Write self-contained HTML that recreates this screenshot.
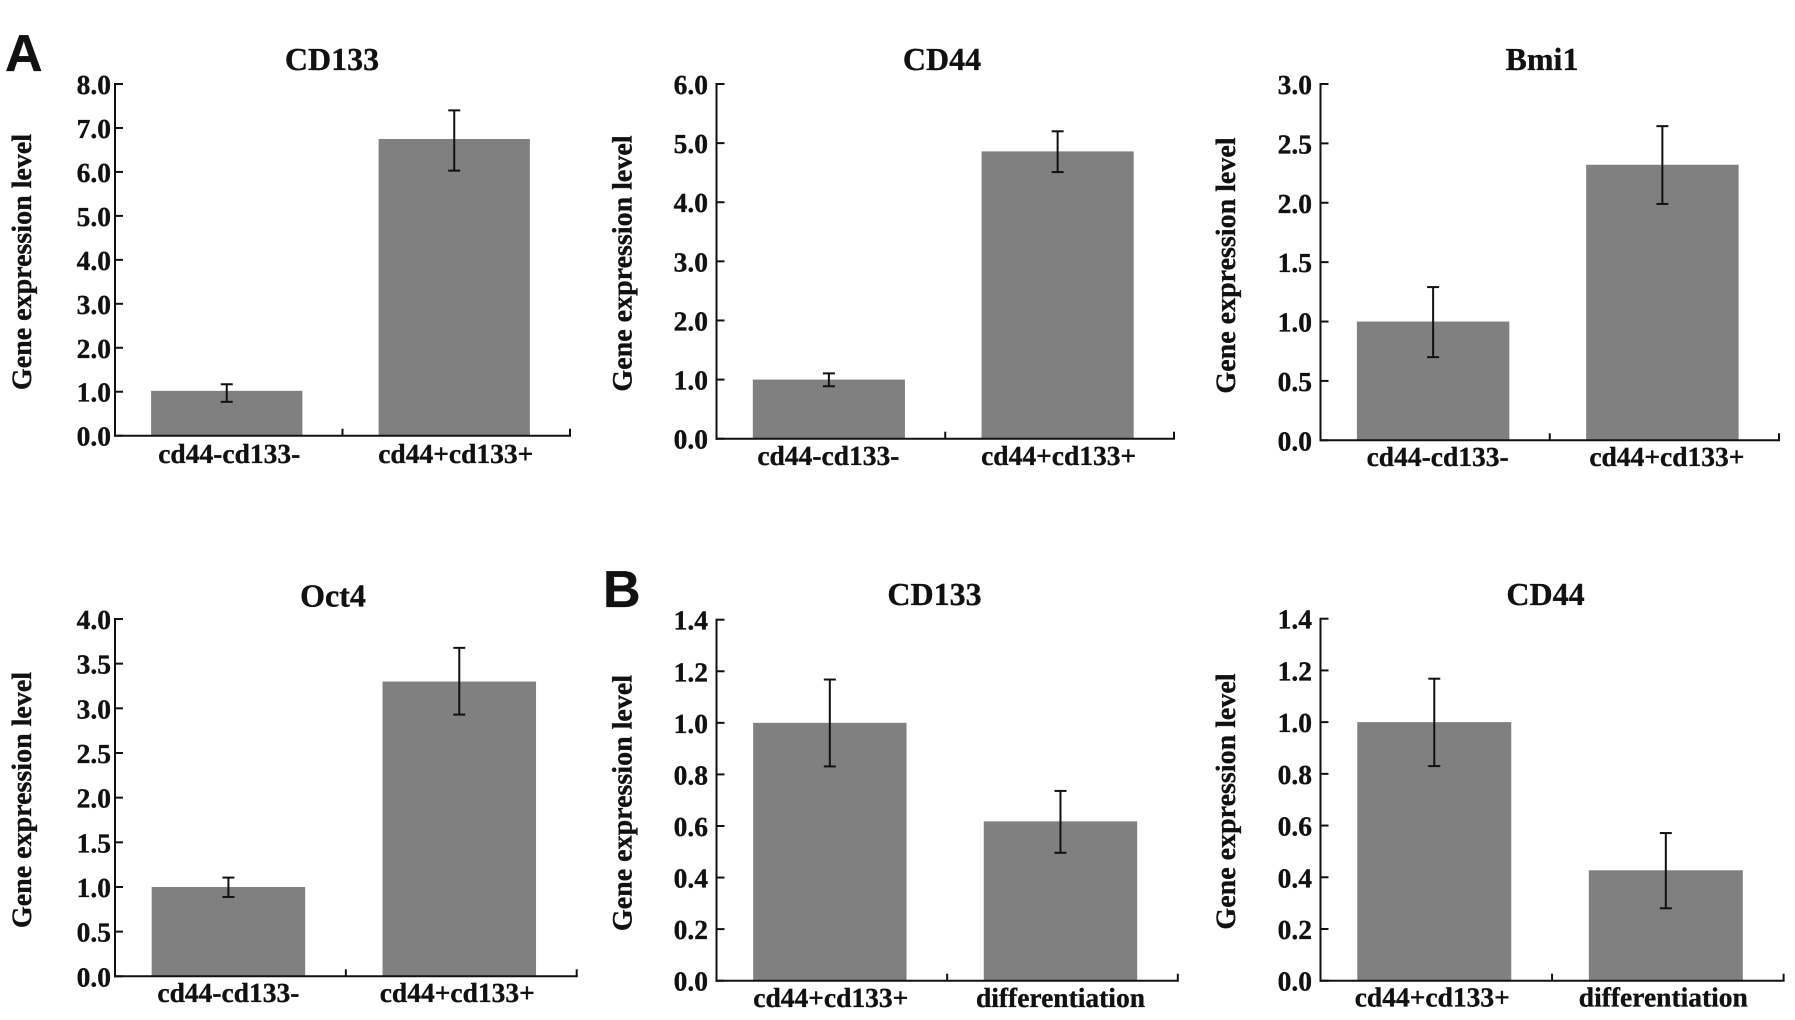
<!DOCTYPE html>
<html lang="en">
<head>
<meta charset="utf-8">
<title>Gene expression level bar charts</title>
<style>
  html, body { margin: 0; padding: 0; background: #fff; }
  #figure { display: block; width: 1795px; height: 1020px; }
  text { font-family: "Liberation Serif", serif; font-weight: bold; fill: #111; stroke: #111; stroke-width: 0.35px; text-rendering: geometricPrecision; }
  .panel-letter { font-family: "Liberation Sans", sans-serif; font-size: 52px; }
  .title { font-size: 32px; text-anchor: middle; }
  .tick-label { font-size: 27.5px; text-anchor: end; }
  .cat-label { font-size: 27.5px; text-anchor: middle; }
  .y-title { font-size: 28px; text-anchor: middle; }
</style>
</head>
<body>
<svg id="figure" xmlns="http://www.w3.org/2000/svg" width="1795" height="1020" viewBox="0 0 1795 1020">
  <rect x="0" y="0" width="1795" height="1020" fill="#fff"/>
  <text class="panel-letter" x="5" y="71">A</text>
  <text class="panel-letter" x="603" y="607">B</text>
</svg>
<script>
// Category labels
const sortedCategories = ["cd44-cd133-", "cd44+cd133+"];
const differentiationCategories = ["cd44+cd133+", "differentiation"];

// Tick labels
const ticksCd133A = ["0.0", "1.0", "2.0", "3.0", "4.0", "5.0", "6.0", "7.0", "8.0"];
const ticksCd44A = ["0.0", "1.0", "2.0", "3.0", "4.0", "5.0", "6.0"];
const ticksBmi1 = ["0.0", "0.5", "1.0", "1.5", "2.0", "2.5", "3.0"];
const ticksOct4 = ["0.0", "0.5", "1.0", "1.5", "2.0", "2.5", "3.0", "3.5", "4.0"];
const ticksCd133B = ["0.0", "0.2", "0.4", "0.6", "0.8", "1.0", "1.2", "1.4"];
const ticksCd44B = ["0.0", "0.2", "0.4", "0.6", "0.8", "1.0", "1.2", "1.4"];

// Series values: bar height, error-bar top, error-bar bottom
const meansCd133A = [1.02, 6.75];
const upperCd133A = [1.17, 7.40];
const lowerCd133A = [0.77, 6.03];

const meansCd44A = [1.00, 4.86];
const upperCd44A = [1.105, 5.20];
const lowerCd44A = [0.887, 4.51];

const meansBmi1 = [1.00, 2.32];
const upperBmi1 = [1.29, 2.645];
const lowerBmi1 = [0.70, 1.99];

const meansOct4 = [1.00, 3.30];
const upperOct4 = [1.105, 3.677];
const lowerOct4 = [0.888, 2.93];

const meansCd133B = [1.00, 0.618];
const upperCd133B = [1.168, 0.736];
const lowerCd133B = [0.831, 0.496];

const meansCd44B = [1.00, 0.427];
const upperCd44B = [1.168, 0.571];
const lowerCd44B = [0.83, 0.28];

const panelCd133A = { key: "cd133-a", title: "CD133", titleX: 332, titleY: 70, left: 115, right: 570, top: 84, bottom: 435.7, tickEnd: 111, yTitleX: 31, yTitleY: 262, catY: 463, catShiftA: 1.5, catShiftB: 0.5, categories: sortedCategories, ticks: ticksCd133A, means: meansCd133A, upper: upperCd133A, lower: lowerCd133A };
const panelCd44A = { key: "cd44-a", title: "CD44", titleX: 942, titleY: 70, left: 716.5, right: 1174, top: 84, bottom: 438.7, tickEnd: 708, yTitleX: 631.5, yTitleY: 263.5, catY: 465, catShiftA: -1.5, catShiftB: 0, categories: sortedCategories, ticks: ticksCd44A, means: meansCd44A, upper: upperCd44A, lower: lowerCd44A };
const panelBmi1 = { key: "bmi1", title: "Bmi1", titleX: 1542, titleY: 70, left: 1320.5, right: 1779, top: 84, bottom: 440.3, tickEnd: 1312, yTitleX: 1235, yTitleY: 265.5, catY: 466, catShiftA: 3.5, catShiftB: 3.5, categories: sortedCategories, ticks: ticksBmi1, means: meansBmi1, upper: upperBmi1, lower: lowerBmi1 };
const panelOct4 = { key: "oct4", title: "Oct4", titleX: 333, titleY: 606.5, left: 115, right: 576.7, top: 619, bottom: 976.3, tickEnd: 111, yTitleX: 31, yTitleY: 800, catY: 1002, catShiftA: -1, catShiftB: -3, categories: sortedCategories, ticks: ticksOct4, means: meansOct4, upper: upperOct4, lower: lowerOct4 };
const panelCd133B = { key: "cd133-b", title: "CD133", titleX: 934.5, titleY: 605, left: 716.5, right: 1177.8, top: 619.7, bottom: 980.7, tickEnd: 708, yTitleX: 631.5, yTitleY: 803, catY: 1007, catShiftA: 0, catShiftB: -1, categories: differentiationCategories, ticks: ticksCd133B, means: meansCd133B, upper: upperCd133B, lower: lowerCd133B };
const panelCd44B = { key: "cd44-b", title: "CD44", titleX: 1545.5, titleY: 605, left: 1320.5, right: 1783.6, top: 618.7, bottom: 980.7, tickEnd: 1312, yTitleX: 1235, yTitleY: 801.5, catY: 1006.5, catShiftA: -3, catShiftB: -3.5, categories: differentiationCategories, ticks: ticksCd44B, means: meansCd44B, upper: upperCd44B, lower: lowerCd44B };

const SVG_NS = "http://www.w3.org/2000/svg";
const BAR_RATIO = 0.665;
const svg = document.getElementById("figure");

function make(tag, attrs, parent, content) {
  const el = document.createElementNS(SVG_NS, tag);
  for (const k in attrs) el.setAttribute(k, attrs[k]);
  if (content !== undefined) el.textContent = content;
  parent.appendChild(el);
  return el;
}

function axisLine(x1, y1, x2, y2, parent) {
  return make("line", { x1: x1, y1: y1, x2: x2, y2: y2, stroke: "#111", "stroke-width": 2 }, parent);
}

function drawPanel(p) {
  const maxValue = parseFloat(p.ticks[p.ticks.length - 1]);
  const yScale = v => p.bottom - (v / maxValue) * (p.bottom - p.top);
  const band = (p.right - p.left) / p.categories.length;
  const bandCenter = i => p.left + band * (i + 0.5) - 1;
  const xScale = i => bandCenter(i) - 1;
  const catShifts = [p.catShiftA, p.catShiftB];

  const group = make("g", {}, svg);
  
  

  const title = make("text", { class: "title", x: p.titleX, y: p.titleY }, group, p.title);
  
  

  const yTitle = make("text", { class: "y-title", x: 0, y: 0, transform: "translate(" + p.yTitleX + "," + p.yTitleY + ") rotate(-90)" }, group, "Gene expression level");
  
  

  p.means.forEach((value, i) => {
    const width = band * BAR_RATIO;
    const bar = make("rect", { x: xScale(i) - width / 2, y: yScale(value), width: width, height: p.bottom - yScale(value), fill: "#808080" }, group);
    
    
  });

  const yAxis = axisLine(p.left, p.top - 1, p.left, p.bottom + 1, group);
  
  

  const xAxis = axisLine(p.left - 1, p.bottom, p.right + 1, p.bottom, group);
  
  

  p.ticks.forEach(label => {
    const y = yScale(parseFloat(label));
    const tick = axisLine(p.left, y, p.left + 8, y, group);
    
    
    const text = make("text", { class: "tick-label", x: p.tickEnd, y: y + 10 }, group, label);
    
    
  });

  for (let i = 1; i <= p.categories.length; i++) {
    const x = p.left + band * i;
    const tick = axisLine(x, p.bottom, x, p.bottom - 7, group);
    
    
  }

  p.categories.forEach((label, i) => {
    const text = make("text", { class: "cat-label", x: bandCenter(i) + catShifts[i], y: p.catY }, group, label);
    
    
  });

  p.means.forEach((value, i) => {
    const x = xScale(i);
    const yTop = yScale(p.upper[i]);
    const yBottom = yScale(p.lower[i]);
    const err = make("g", {}, group);
    
    
    axisLine(x, yTop, x, yBottom, err);
    axisLine(x - 6, yTop, x + 6, yTop, err);
    axisLine(x - 6, yBottom, x + 6, yBottom, err);
  });
}

[panelCd133A, panelCd44A, panelBmi1, panelOct4, panelCd133B, panelCd44B].forEach(drawPanel);
</script>
</body>
</html>
